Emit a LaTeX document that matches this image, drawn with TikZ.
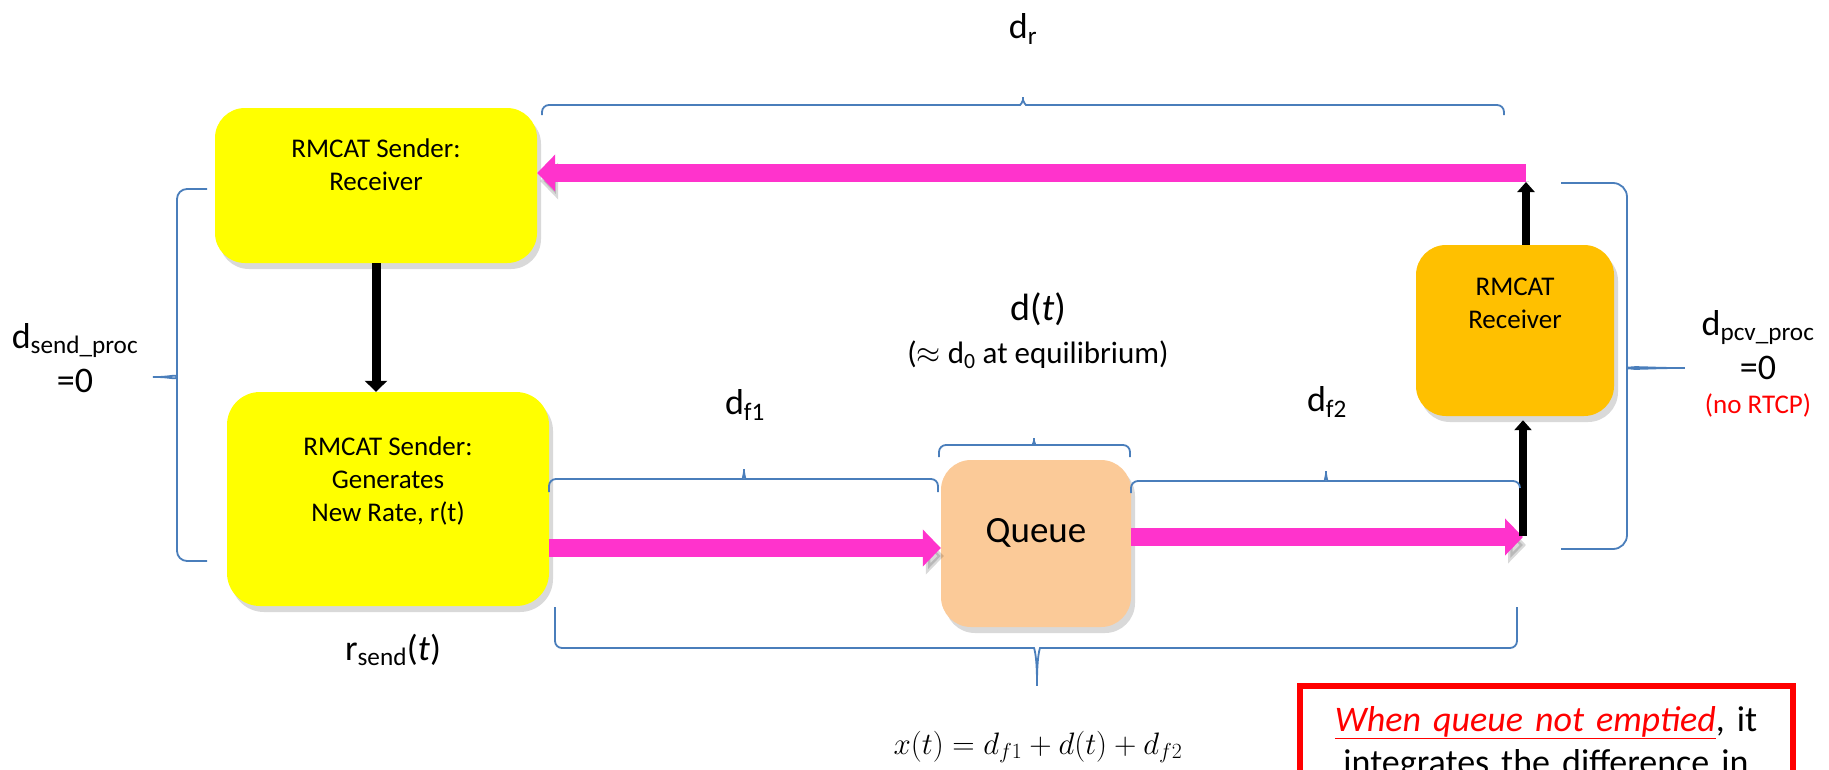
\RequirePackage{fix-cm}
\documentclass[tikz,border=0pt]{standalone}
\usepackage{fontspec}
\setmainfont{Carlito}
\usepackage{tikz}
\usetikzlibrary{arrows.meta}
\usetikzlibrary{shadows}
\definecolor{yel}{RGB}{255,255,0}
\definecolor{orng}{RGB}{255,192,0}
\definecolor{peach}{RGB}{251,202,152}
\definecolor{pinkc}{RGB}{255,51,204}
\definecolor{bblue}{RGB}{74,126,187}

\begin{document}
\begin{tikzpicture}[x=1pt, y=-1pt,
  ybox/.style={rounded corners=30pt, drop shadow={shadow xshift=4pt, shadow yshift=-6pt, opacity=.3}},
  boxtxt/.style={font=\fontsize{27}{33}\selectfont, align=center, inner sep=0pt, anchor=north},
  lbl/.style={font=\fontsize{36}{44}\selectfont, align=center, inner sep=0pt},
  pinkarrow/.style={draw=pinkc, line width=18pt, -{Triangle[length=18pt, width=36pt]},
    preaction={draw=black, opacity=.15, transform canvas={xshift=3pt, yshift=-8pt}}},
  blackarrow/.style={draw=black, line width=9pt, -{Triangle[length=11pt, width=22pt]}},
  brc/.style={draw=bblue, line width=1.8pt, rounded corners=7pt},]
\useasboundingbox (0,0) rectangle (1829,769);
\node[ybox, fill=yel, minimum width=322pt, minimum height=155pt] (1) at (376,185.5) {};
\node[boxtxt] (2) at ([yshift=-31pt]1.north) {RMCAT Sender:\\Receiver};
\node[ybox, fill=yel, minimum width=322pt, minimum height=214pt, rounded corners=33pt] (3) at (388,499) {};
\node[boxtxt] (4) at ([yshift=-45pt]3.north) {RMCAT Sender:\\Generates\\New Rate, r(t)};
\node[ybox, fill=orng, minimum width=198pt, minimum height=171pt] (5) at (1515,330.5) {};
\node[boxtxt] (6) at ([yshift=-33pt]5.north) {RMCAT\\Receiver};
\node[ybox, fill=peach, minimum width=190pt, minimum height=167pt] (7) at (1036,543.5) {};
\node[boxtxt, font=\fontsize{37}{44}\selectfont] (8) at ([yshift=-58pt]7.north) {Queue};
\coordinate (9) at (1526,173);
\coordinate (10) at (1523,537);
\coordinate (11) at ([yshift=-4.5pt]7.west);
  \draw[pinkarrow] (9) -- (9 -| 1.east);
  \draw[pinkarrow] (11 -| 3.east) -- (11);
  \draw[pinkarrow] (7.east |- 10) -- (10);
  \draw[blackarrow] (1.south) -- (1.south |- 3.north);
  \draw[blackarrow, line width=8pt, -{Triangle[length=10pt, width=17pt]}, shorten >=9pt] (9 |- 5.north) -- (9);
  \draw[blackarrow, line width=8pt, -{Triangle[length=10pt, width=17pt]}, shorten >=4pt] ([yshift=1pt]10) -- (10 |- 5.south);
\draw[brc] (542,115) -- (542,105) -- (1013,105) .. controls (1020,105) and (1023,102) .. (1023,93) .. controls (1023,102) and (1026,105) .. (1033,105) -- (1504,105) -- (1504,115);
\draw[brc] (939,457) -- (939,445) -- (1026,445) .. controls (1032,445) and (1034,442) .. (1034,434) .. controls (1034,442) and (1036,445) .. (1042,445) -- (1130,445) -- (1130,457);
\draw[brc] (549,492) -- (549,479) -- (736,479) .. controls (742,479) and (744,475) .. (744,465) .. controls (744,475) and (746,479) .. (752,479) -- (938,479) -- (938,492);
\draw[brc] (1131,493) -- (1131,481) -- (1318,481) .. controls (1324,481) and (1326,477) .. (1326,467) .. controls (1326,477) and (1328,481) .. (1334,481) -- (1520,481) -- (1520,488);
\draw[brc] (555,607) -- (555,648) -- (1027,648) .. controls (1034,648) and (1037,655) .. (1037,690) .. controls (1037,655) and (1040,648) .. (1047,648) -- (1517,648) -- (1517,607);
\draw[brc, rounded corners=10pt] (207,189) -- (177,189) -- (177,367) .. controls (177,374) and (170,377) .. (147,377) .. controls (170,377) and (177,380) .. (177,387) -- (177,561) -- (207,561);
\draw[brc, rounded corners=14pt] (1561,183) -- (1627,183) -- (1627,356) .. controls (1627,365) and (1640,368) .. (1693,368) .. controls (1640,368) and (1627,371) .. (1627,380) -- (1627,549) -- (1561,549);
\node[lbl] (12) at (1023,29) {d\textsubscript{r}};
\node[lbl] (13) at (75,358) {d\textsubscript{send\_proc}\\=0};
\node[lbl] (14) at (1758,345) {d\textsubscript{pcv\_proc}\\=0};
\node[lbl, text=red, font=\fontsize{27}{33}\selectfont] (15) at (1758,405) {(no RTCP)};
\node[lbl, font=\fontsize{38}{44}\selectfont] (16) at (1038,309) {d(\textit{t})};
\node[lbl, font=\fontsize{31}{38}\selectfont] (17) at (1038,355) {($\approx$ d\textsubscript{0} at equilibrium)};
\node[lbl] (18) at (745,405) {d\textsubscript{f1}};
\node[lbl] (19) at (1327,402) {d\textsubscript{f2}};
\node[lbl] (20) at (393,650) {r\textsubscript{send}(\textit{t})};
\node[lbl, font=\fontsize{31}{38}\selectfont] (21) at (1038,747) {$x(t) = d_{f1} + d(t) + d_{f2}$};
\begin{scope}
\clip (0,0) rectangle (1829,769);
\node[draw=red, line width=6pt, anchor=north, text width=457pt, align=center, inner xsep=18pt, inner ysep=20pt, font=\fontsize{36}{43}\selectfont] (22) at (1546,683) {\textcolor{red}{\underline{\textit{When queue not emptied}}}, it\\integrates the difference in};
\end{scope}
\end{tikzpicture}
\end{document}
